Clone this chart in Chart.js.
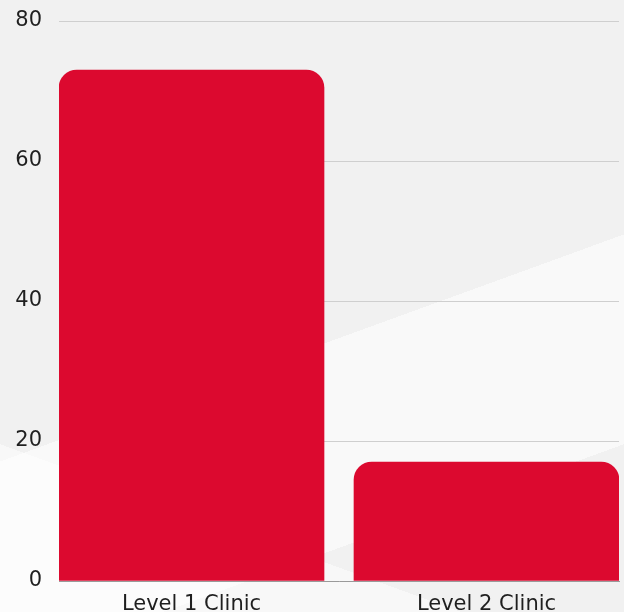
<!DOCTYPE html>
<html lang="en">
<head>
    <meta charset="UTF-8">
    <title>Clinic levels</title>
    <style>
        * {
            margin: 0;
            padding: 0;
            box-sizing: border-box;
        }

        body {
            width: 624px;
            height: 612px;
            overflow: hidden;
            background-color: #f1f1f1;
            background-image:
                linear-gradient(160deg, rgba(255,255,255,0) 55%, rgba(255,255,255,0.6) 55%, rgba(255,255,255,0.6) 80%, rgba(255,255,255,0) 80%),
                linear-gradient(20deg, rgba(255,255,255,0.5) 20%, rgba(255,255,255,0) 20%);
        }

        .wrap {
            position: relative;
            width: 624px;
            height: 612px;
        }
    </style>
</head>
<body>
    <div class="wrap">
        <canvas id="chart"></canvas>
    </div>

    <script src="https://cdn.jsdelivr.net/npm/chart.js@4.4.0/dist/chart.umd.min.js"></script>
    <script>
        // Data
        const categories = ['Level 1 Clinic', 'Level 2 Clinic'];
        const positions = [1, 2];
        const values = [73, 17];
        const yTicks = [0, 20, 40, 60, 80];

        const points = positions.map((x, i) => ({ x: x, y: values[i] }));
        const labelFont = { family: "'DejaVu Sans', sans-serif", size: 21 };

        new Chart(document.getElementById('chart'), {
            type: 'bar',
            data: {
                datasets: [{
                    data: points,
                    backgroundColor: '#dc092f',
                    borderRadius: 18,
                    barThickness: 265
                }]
            },
            options: {
                responsive: true,
                maintainAspectRatio: false,
                animation: false,
                layout: {
                    padding: { top: 21, right: 5, left: 0, bottom: 0 }
                },
                plugins: {
                    legend: { display: false },
                    tooltip: { enabled: false }
                },
                scales: {
                    x: {
                        type: 'linear',
                        offset: false,
                        min: 1 - 132.5 / 295,
                        max: 2 + 132.5 / 295,
                        afterBuildTicks: axis => {
                            axis.ticks = positions.map(v => ({ value: v }));
                        },
                        afterFit: axis => { axis.height = 31; },
                        grid: { display: false },
                        border: { display: true, color: '#9a9a9a', width: 1 },
                        ticks: {
                            color: '#1f1f1f',
                            padding: 3,
                            maxRotation: 0,
                            autoSkip: false,
                            font: labelFont,
                            callback: v => categories[positions.indexOf(v)]
                        }
                    },
                    y: {
                        min: 0,
                        max: 80,
                        afterBuildTicks: axis => {
                            axis.ticks = yTicks.map(v => ({ value: v }));
                        },
                        afterFit: axis => { axis.width = 59; },
                        // ticks kept invisible: they only push the labels left
                        grid: { color: '#cfcfcf', lineWidth: 1, drawTicks: true, tickLength: 17, tickColor: 'rgba(0,0,0,0)' },
                        border: { display: false },
                        ticks: {
                            color: '#1f1f1f',
                            padding: 0,
                            font: labelFont
                        }
                    }
                }
            }
        });
    </script>
</body>
</html>
